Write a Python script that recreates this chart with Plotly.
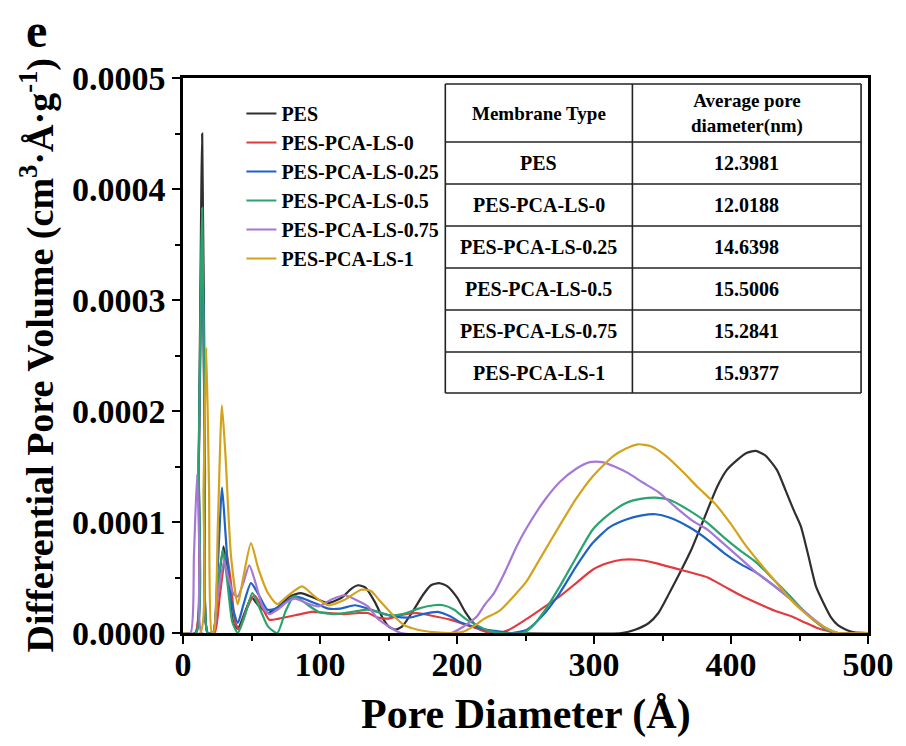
import plotly.graph_objects as go

# ---------------- data (y values in units of 1e-4 cm3/(A g)) ----------------
series_names = ["PES", "PES-PCA-LS-0", "PES-PCA-LS-0.25", "PES-PCA-LS-0.5",
                "PES-PCA-LS-0.75", "PES-PCA-LS-1"]
series_colors = ["#2f2f2f", "#e23b3f", "#1f63c6", "#2aa46e", "#a678d6", "#d4a21c"]

pes_x = [0, 9, 11.5, 14, 16, 18, 22, 25, 29.6, 33, 37, 40, 45, 50, 55, 62, 70, 78, 86, 95,
         106, 116, 123, 128, 133, 140, 146, 150, 155, 160, 168, 175, 181, 187, 193, 200, 206,
         212, 218, 224, 235, 320, 330, 340, 347, 355, 363, 371, 380, 390, 397, 404.6, 411,
         418, 425, 433.5, 440, 446, 451, 456, 462, 467.5, 473, 478, 484, 490, 500]
pes_y = [0, 0, 1.6, 4.5, 1.8, 0, 0, 0.35, 0.78, 0.45, 0.08, 0.04, 0.18, 0.32, 0.25, 0.18,
         0.24, 0.33, 0.36, 0.32, 0.27, 0.32, 0.40, 0.43, 0.41, 0.28, 0.13, 0.06, 0.03, 0.06,
         0.20, 0.34, 0.43, 0.45, 0.42, 0.32, 0.19, 0.09, 0.03, 0.005, 0, 0, 0.03, 0.09, 0.18,
         0.36, 0.55, 0.75, 1.02, 1.32, 1.47, 1.56, 1.62, 1.64, 1.60, 1.47, 1.28, 1.10, 0.96,
         0.72, 0.42, 0.27, 0.14, 0.07, 0.03, 0.005, 0]

ls0_x = [0, 9, 11.5, 14, 16, 18, 23, 27, 31.5, 35, 38, 41, 46, 52, 57, 63, 70, 82, 94, 106,
         118, 128, 135, 142, 150, 159, 171, 180, 195, 205, 214.6, 222, 230, 238, 250, 262,
         275, 287, 299, 310, 320, 332, 345, 360, 372, 383, 395, 407, 419, 432, 444, 453, 462,
         470, 478, 500]
ls0_y = [0, 0, 1.5, 3.5, 1.5, 0, 0, 0.35, 0.73, 0.45, 0.10, 0.03, 0.20, 0.34, 0.25, 0.12,
         0.13, 0.16, 0.19, 0.18, 0.17, 0.18, 0.18, 0.14, 0.13, 0.16, 0.18, 0.16, 0.12, 0.08,
         0.04, 0.01, 0, 0.03, 0.12, 0.22, 0.33, 0.45, 0.57, 0.63, 0.66, 0.66, 0.63, 0.58,
         0.54, 0.50, 0.42, 0.34, 0.27, 0.20, 0.15, 0.10, 0.05, 0.02, 0, 0]

ls025_x = [0, 9.5, 11.5, 14, 16, 18, 22, 25, 28.5, 31, 35, 40, 44, 49.6, 55, 61.6, 68, 75,
           82, 90, 100, 106, 115, 125.5, 135, 142, 154, 166, 175, 186, 195, 202, 214.6, 227,
           240, 251, 262, 275, 287, 299, 311, 323, 335, 345, 355, 370, 383, 395, 407, 419,
           432, 444, 453, 462, 470, 478, 500]
ls025_y = [0, 0, 1.5, 3.7, 1.5, 0, 0, 0.5, 1.31, 0.9, 0.3, 0.09, 0.25, 0.45, 0.35, 0.21,
           0.22, 0.28, 0.33, 0.30, 0.25, 0.22, 0.22, 0.25, 0.22, 0.19, 0.15, 0.14, 0.17,
           0.19, 0.15, 0.10, 0.05, 0.02, 0, 0.03, 0.15, 0.36, 0.60, 0.81, 0.95, 1.02, 1.06,
           1.07, 1.04, 0.95, 0.84, 0.72, 0.62, 0.54, 0.42, 0.30, 0.20, 0.10, 0.03, 0, 0]

ls05_x = [0, 9.5, 11.5, 14, 16, 18, 22, 25, 29, 32, 36, 40, 45, 50.6, 55, 62, 68.8, 75, 81,
          88, 99, 110, 118, 128, 135, 142, 150, 160, 172, 183, 190, 198, 206, 214.6, 223,
          232, 248, 255, 265, 275, 287, 299, 311, 323, 335, 345, 355, 370, 383, 395, 407,
          419, 432, 444, 453, 462, 470, 478, 500]
ls05_y = [0, 0, 1.6, 3.83, 1.6, 0, 0, 0.35, 0.75, 0.5, 0.1, 0, 0.15, 0.36, 0.25, 0.06, 0.0,
          0.20, 0.33, 0.28, 0.19, 0.17, 0.18, 0.20, 0.21, 0.19, 0.16, 0.17, 0.22, 0.25, 0.25,
          0.21, 0.13, 0.07, 0.02, 0, 0, 0.06, 0.22, 0.42, 0.68, 0.93, 1.07, 1.17, 1.21, 1.22,
          1.20, 1.10, 0.99, 0.86, 0.74, 0.63, 0.47, 0.32, 0.20, 0.10, 0.03, 0, 0]

ls075_x = [0, 5.5, 8, 10.3, 12, 13.5, 22, 25, 30, 33, 37, 40, 44, 48.4, 53, 58, 63, 70, 76,
           82, 90, 99, 108, 118, 126, 135, 142, 150, 159, 196, 205, 214.6, 220, 227, 235,
           243.5, 251, 263, 275, 287, 297, 306, 315, 325, 335, 347, 360, 372, 383, 395, 407,
           419, 432, 444, 453, 462, 470, 478, 500]
ls075_y = [0, 0, 0.7, 1.43, 0.7, 0, 0, 0.3, 0.65, 0.5, 0.35, 0.33, 0.45, 0.61, 0.45, 0.24,
           0.17, 0.22, 0.28, 0.31, 0.27, 0.24, 0.30, 0.34, 0.30, 0.24, 0.13, 0.06, 0, 0, 0.06,
           0.15, 0.25, 0.36, 0.55, 0.78, 0.95, 1.18, 1.36, 1.48, 1.54, 1.54, 1.50, 1.44, 1.36,
           1.27, 1.13, 1.01, 0.93, 0.80, 0.67, 0.54, 0.42, 0.30, 0.20, 0.11, 0.04, 0, 0]

ls1_x = [0, 12.5, 15, 17, 19, 21, 22.5, 25.5, 28.4, 31, 35, 40, 44, 49.6, 55, 62, 68.8, 76,
         86.9, 96, 106, 118, 130, 137, 143, 149.6, 155, 161.6, 168, 175, 185, 195, 204, 212,
         220, 231, 243.5, 251, 263, 275, 287, 299, 313.6, 323, 332, 342, 352, 365, 376, 388,
         400, 410, 419, 432, 443.6, 452, 462, 470, 478, 500]
ls1_y = [0, 0, 1.3, 2.57, 1.3, 0, 0, 1.0, 2.05, 1.6, 0.7, 0.26, 0.5, 0.81, 0.58, 0.36, 0.26,
         0.33, 0.42, 0.33, 0.25, 0.30, 0.39, 0.38, 0.30, 0.21, 0.14, 0.07, 0.04, 0.02, 0.005,
         0, 0.01, 0.06, 0.13, 0.20, 0.36, 0.47, 0.72, 0.97, 1.21, 1.41, 1.59, 1.66, 1.70,
         1.68, 1.60, 1.45, 1.31, 1.17, 0.98, 0.80, 0.66, 0.47, 0.30, 0.20, 0.10, 0.04, 0, 0]

series_x = [pes_x, ls0_x, ls025_x, ls05_x, ls075_x, ls1_x]
series_y = [pes_y, ls0_y, ls025_y, ls05_y, ls075_y, ls1_y]
Y_UNIT = 1e-4

# inset table
table_header = ["Membrane Type", "Average pore<br>diameter(nm)"]
table_membranes = ["PES", "PES-PCA-LS-0", "PES-PCA-LS-0.25", "PES-PCA-LS-0.5",
                   "PES-PCA-LS-0.75", "PES-PCA-LS-1"]
table_avg_nm = ["12.3981", "12.0188", "14.6398", "15.5006", "15.2841", "15.9377"]

x_ticks = [0, 100, 200, 300, 400, 500]
y_ticks = [0.0, 0.0001, 0.0002, 0.0003, 0.0004, 0.0005]

# ---------------- layout helpers (pixel -> paper) ----------------
W, H = 906, 746
PL, PR, PT, PB = 183, 875, 78, 633
FONT = "Liberation Serif"


def fx(p):
    return (p - PL) / (PR - PL)


def fy(p):
    return (PB - p) / (PB - PT)


fig = go.Figure()
for name, color, xs, ys in zip(series_names, series_colors, series_x, series_y):
    fig.add_trace(go.Scatter(
        x=xs, y=[v * Y_UNIT for v in ys], mode="lines", name=name,
        line=dict(color=color, width=2.2, shape="spline", smoothing=0.6),
    ))

axis_common = dict(
    showline=True, linewidth=2.5, linecolor="black", mirror=True,
    ticks="outside", ticklen=8, tickwidth=2, tickcolor="black",
    showgrid=False, zeroline=False,
    tickfont=dict(family=FONT, size=34, color="black", weight="bold"),
)
fig.update_xaxes(range=[0, 500], tickvals=x_ticks, ticklabelstandoff=-9,
                 minor=dict(dtick=50, ticks="outside", ticklen=5, tickwidth=2,
                            tickcolor="black"),
                 **axis_common)
fig.update_yaxes(range=[0, 0.0005], tickvals=y_ticks, tickformat=".4f",
                 minor=dict(dtick=0.00005, ticks="outside", ticklen=5, tickwidth=2,
                            tickcolor="black"),
                 **axis_common)

annotations = [
    dict(text="<b>e</b>", x=fx(35), y=fy(30), xref="paper", yref="paper",
         showarrow=False, font=dict(family=FONT, size=48, color="black"),
         xanchor="center", yanchor="middle"),
    dict(text="<b>Differential Pore Volume (cm<sup>3</sup>·Å·g<sup>-1</sup>)</b>",
         x=fx(36), y=fy(355), xref="paper", yref="paper", textangle=-90,
         showarrow=False, font=dict(family=FONT, size=38, color="black"),
         xanchor="center", yanchor="middle"),
    dict(text="<b>Pore Diameter (Å)</b>", x=fx(529), y=fy(714), xref="paper",
         yref="paper", showarrow=False,
         font=dict(family=FONT, size=42, color="black"),
         xanchor="center", yanchor="middle"),
]

# table geometry (pixels)
tx = [448, 637, 868]
ty = [84, 142, 184, 226, 268, 310, 352, 393]
shapes = []
for yy in ty:
    shapes.append(dict(type="line", xref="paper", yref="paper", x0=fx(tx[0]), x1=fx(tx[2]),
                       y0=fy(yy), y1=fy(yy), line=dict(color="#222", width=1.6)))
for xx in tx:
    shapes.append(dict(type="line", xref="paper", yref="paper", x0=fx(xx), x1=fx(xx),
                       y0=fy(ty[0]), y1=fy(ty[-1]), line=dict(color="#222", width=1.6)))

col_c = [(tx[0] + tx[1]) / 2, (tx[1] + tx[2]) / 2]
for ci, htxt in enumerate(table_header):
    annotations.append(dict(text="<b>" + htxt + "</b>", x=fx(col_c[ci]),
                            y=fy((ty[0] + ty[1]) / 2), xref="paper", yref="paper",
                            showarrow=False, xanchor="center", yanchor="middle",
                            font=dict(family=FONT, size=19, color="black")))
for ri, (mem, val) in enumerate(zip(table_membranes, table_avg_nm)):
    yc = (ty[ri + 1] + ty[ri + 2]) / 2
    for ci, txt in enumerate([mem, val]):
        annotations.append(dict(text="<b>" + txt + "</b>", x=fx(col_c[ci]), y=fy(yc),
                                xref="paper", yref="paper", showarrow=False,
                                xanchor="center", yanchor="middle",
                                font=dict(family=FONT, size=20, color="black")))

fig.update_layout(
    width=W, height=H,
    margin=dict(l=PL, r=W - PR, t=PT, b=H - PB),
    paper_bgcolor="white", plot_bgcolor="white",
    showlegend=True,
    legend=dict(x=fx(242), y=fy(94), xanchor="left", yanchor="top",
                bgcolor="rgba(0,0,0,0)", borderwidth=0,
                font=dict(family=FONT, size=20, color="black", weight="bold")),
    annotations=annotations, shapes=shapes,
)

fig.write_html("out.html")
